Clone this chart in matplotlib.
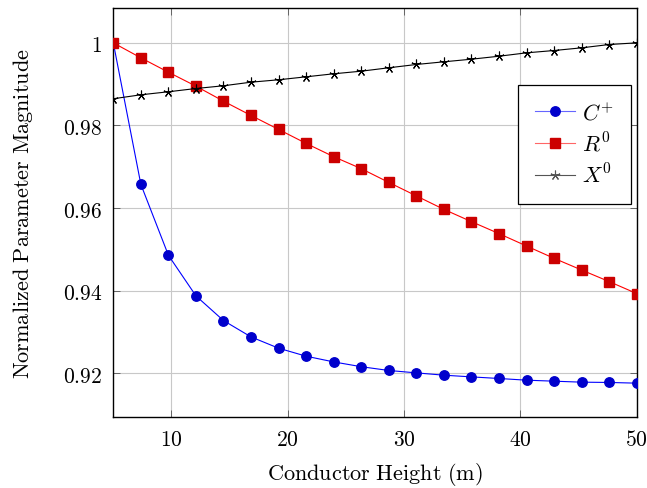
import matplotlib
matplotlib.use("Agg")
import matplotlib.pyplot as plt

# conductor height (m)
height = [5.0, 7.37, 9.74, 12.11, 14.47, 16.84, 19.21, 21.58, 23.95, 26.32,
          28.68, 31.05, 33.42, 35.79, 38.16, 40.53, 42.89, 45.26, 47.63, 50.0]

c_pos = [1.0, 0.96575, 0.94859, 0.93876, 0.93281, 0.92885, 0.92612, 0.92418, 0.92280, 0.92164,
         0.92073, 0.92015, 0.91959, 0.91918, 0.91879, 0.91838, 0.91814, 0.91790, 0.91783, 0.91766]
r_zero = [1.0, 0.99637, 0.99289, 0.98951, 0.98589, 0.98243, 0.97905, 0.97566, 0.97245, 0.96955,
          0.96624, 0.96297, 0.95971, 0.95674, 0.95384, 0.95084, 0.94787, 0.94504, 0.94224, 0.93934]
x_zero = [0.98647, 0.98743, 0.98816, 0.98895, 0.98961, 0.99048, 0.99106, 0.99178, 0.99251, 0.99314,
          0.99396, 0.99476, 0.99541, 0.99604, 0.99676, 0.99758, 0.99814, 0.99879, 0.99959, 1.0]

xticks = [10, 20, 30, 40, 50]
yticks = [0.92, 0.94, 0.96, 0.98, 1.0]
ytick_labels = ["0.92", "0.94", "0.96", "0.98", "1"]

plt.rcParams["mathtext.fontset"] = "cm"
plt.rcParams["font.family"] = "serif"
plt.rcParams["font.serif"] = ["DejaVu Serif"]

W, H = 647, 489
fig = plt.figure(figsize=(W / 100, H / 100), dpi=100)
left, right, top, bottom = 113.3, 636.7, 8.7, 418.3
ax = fig.add_axes([left / W, 1 - bottom / H, (right - left) / W, (bottom - top) / H])

ax.plot(height, c_pos, color="blue", lw=0.8, marker="o", ms=6.8,
        mfc=(0, 0, 0.8), mec=(0, 0, 0.8), label=r"$C^{+}$", zorder=3)
ax.plot(height, r_zero, color="red", lw=0.8, marker="s", ms=6.8,
        mfc=(0.8, 0, 0), mec=(0.8, 0, 0), label=r"$R^{0}$", zorder=3)
ax.plot(height, x_zero, color="black", lw=0.8, marker=(5, 2, 0), ms=7,
        mew=0.8, label=r"$X^{0}$", zorder=3)

ax.set_xlim(5, 50)
ax.set_ylim(0.9094, 1.0085)
ax.set_xticks(xticks)
ax.set_xticklabels([f"${t}$" for t in xticks])
ax.set_yticks(yticks)
ax.set_yticklabels([f"${t}$" for t in ytick_labels])
ax.tick_params(direction="in", length=5, width=0.6, color="#555555",
               top=True, right=True, labelsize=15.5, pad=8)
ax.grid(True, color="#c8c8c8", lw=0.8)
ax.set_axisbelow(True)
for s in ax.spines.values():
    s.set_linewidth(1.0)

ax.set_xlabel(r"$\mathrm{Conductor\ Height\ (m)}$", fontsize=16, labelpad=7)
ax.set_ylabel(r"$\mathrm{Normalized\ Parameter\ Magnitude}$", fontsize=16, labelpad=20)

leg = ax.legend(loc="upper right", bbox_to_anchor=(0.989, 0.811), borderaxespad=0,
                fontsize=16, fancybox=False, edgecolor="black", framealpha=1,
                handlelength=1.8, handletextpad=0.35, labelspacing=0.35, borderpad=0.75)
leg.get_frame().set_linewidth(0.9)
# pgfplots draws the legend lines lighter than the marks
for h, c in zip(leg.get_lines(), ["#6666ff", "#ff6666", "#555555"]):
    h.set_color(c)

fig.savefig("out.png", dpi=100)
